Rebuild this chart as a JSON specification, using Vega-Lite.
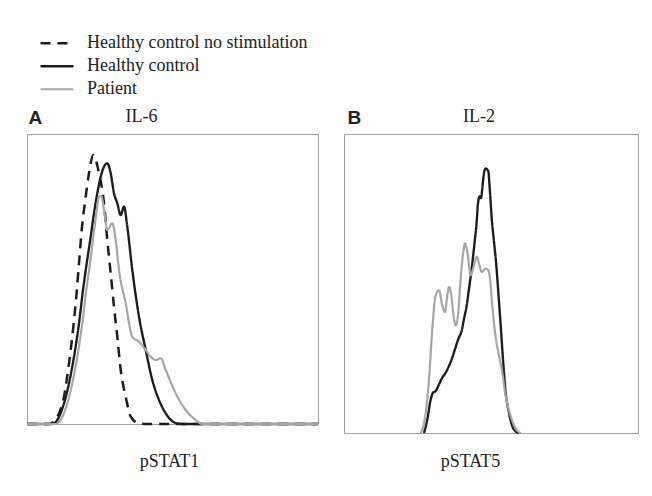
{
  "$schema": "https://vega.github.io/schema/vega-lite/v6.json",
  "padding": {"left": 21, "top": 32, "right": 5, "bottom": 5},
  "background": "white",
  "data": {"values": [
    {"p":"A","s":"Healthy control no stimulation","x":0,"y":0},
    {"p":"A","s":"Healthy control no stimulation","x":22,"y":0},
    {"p":"A","s":"Healthy control no stimulation","x":30.3,"y":7.3},
    {"p":"A","s":"Healthy control no stimulation","x":37,"y":27.3},
    {"p":"A","s":"Healthy control no stimulation","x":42,"y":60.7},
    {"p":"A","s":"Healthy control no stimulation","x":46,"y":94},
    {"p":"A","s":"Healthy control no stimulation","x":49.3,"y":127.3},
    {"p":"A","s":"Healthy control no stimulation","x":52,"y":160.7},
    {"p":"A","s":"Healthy control no stimulation","x":54.7,"y":194},
    {"p":"A","s":"Healthy control no stimulation","x":58.7,"y":227.3},
    {"p":"A","s":"Healthy control no stimulation","x":62,"y":250.7},
    {"p":"A","s":"Healthy control no stimulation","x":66.3,"y":269},
    {"p":"A","s":"Healthy control no stimulation","x":72,"y":250.7},
    {"p":"A","s":"Healthy control no stimulation","x":77,"y":220.7},
    {"p":"A","s":"Healthy control no stimulation","x":80.3,"y":184},
    {"p":"A","s":"Healthy control no stimulation","x":83.7,"y":150.7},
    {"p":"A","s":"Healthy control no stimulation","x":87,"y":117.3},
    {"p":"A","s":"Healthy control no stimulation","x":90.3,"y":87.3},
    {"p":"A","s":"Healthy control no stimulation","x":93.7,"y":54},
    {"p":"A","s":"Healthy control no stimulation","x":98.7,"y":27.3},
    {"p":"A","s":"Healthy control no stimulation","x":103.7,"y":7.3},
    {"p":"A","s":"Healthy control no stimulation","x":112,"y":0.5},
    {"p":"A","s":"Healthy control no stimulation","x":118.7,"y":0},
    {"p":"A","s":"Healthy control no stimulation","x":291,"y":0},
    {"p":"A","s":"Healthy control","x":0,"y":0},
    {"p":"A","s":"Healthy control","x":25.3,"y":0},
    {"p":"A","s":"Healthy control","x":37,"y":20.7},
    {"p":"A","s":"Healthy control","x":42,"y":40.7},
    {"p":"A","s":"Healthy control","x":47,"y":67.3},
    {"p":"A","s":"Healthy control","x":52,"y":100.7},
    {"p":"A","s":"Healthy control","x":56,"y":134},
    {"p":"A","s":"Healthy control","x":59.7,"y":160.7},
    {"p":"A","s":"Healthy control","x":63.7,"y":187.3},
    {"p":"A","s":"Healthy control","x":67,"y":210.7},
    {"p":"A","s":"Healthy control","x":70.3,"y":230.7},
    {"p":"A","s":"Healthy control","x":73.7,"y":247.3},
    {"p":"A","s":"Healthy control","x":77,"y":257.3},
    {"p":"A","s":"Healthy control","x":80.3,"y":260.7},
    {"p":"A","s":"Healthy control","x":83.7,"y":250.7},
    {"p":"A","s":"Healthy control","x":87,"y":230.7},
    {"p":"A","s":"Healthy control","x":90.3,"y":220.7},
    {"p":"A","s":"Healthy control","x":93.7,"y":209},
    {"p":"A","s":"Healthy control","x":97,"y":217.3},
    {"p":"A","s":"Healthy control","x":100.3,"y":197.3},
    {"p":"A","s":"Healthy control","x":105.3,"y":154},
    {"p":"A","s":"Healthy control","x":112,"y":107.3},
    {"p":"A","s":"Healthy control","x":118.7,"y":74},
    {"p":"A","s":"Healthy control","x":125.3,"y":44},
    {"p":"A","s":"Healthy control","x":132,"y":24},
    {"p":"A","s":"Healthy control","x":138.7,"y":10.7},
    {"p":"A","s":"Healthy control","x":148.7,"y":1},
    {"p":"A","s":"Healthy control","x":155.3,"y":0},
    {"p":"A","s":"Healthy control","x":291,"y":0},
    {"p":"A","s":"Patient","x":0,"y":0},
    {"p":"A","s":"Patient","x":28.7,"y":0},
    {"p":"A","s":"Patient","x":40.3,"y":20.7},
    {"p":"A","s":"Patient","x":45.3,"y":40.7},
    {"p":"A","s":"Patient","x":50.3,"y":67.3},
    {"p":"A","s":"Patient","x":55.3,"y":100.7},
    {"p":"A","s":"Patient","x":59.3,"y":134},
    {"p":"A","s":"Patient","x":63,"y":160.7},
    {"p":"A","s":"Patient","x":66.3,"y":187.3},
    {"p":"A","s":"Patient","x":69.3,"y":210.7},
    {"p":"A","s":"Patient","x":72,"y":227.3},
    {"p":"A","s":"Patient","x":74.3,"y":228},
    {"p":"A","s":"Patient","x":77,"y":214},
    {"p":"A","s":"Patient","x":80.3,"y":194},
    {"p":"A","s":"Patient","x":85.3,"y":200.7},
    {"p":"A","s":"Patient","x":88.7,"y":184},
    {"p":"A","s":"Patient","x":92,"y":154},
    {"p":"A","s":"Patient","x":98.7,"y":120.7},
    {"p":"A","s":"Patient","x":105.3,"y":87.3},
    {"p":"A","s":"Patient","x":112,"y":82.3},
    {"p":"A","s":"Patient","x":118.7,"y":74},
    {"p":"A","s":"Patient","x":123.7,"y":67.3},
    {"p":"A","s":"Patient","x":128.7,"y":64},
    {"p":"A","s":"Patient","x":133.7,"y":65.7},
    {"p":"A","s":"Patient","x":138.7,"y":54},
    {"p":"A","s":"Patient","x":148.7,"y":30.7},
    {"p":"A","s":"Patient","x":158.7,"y":14},
    {"p":"A","s":"Patient","x":168.7,"y":4},
    {"p":"A","s":"Patient","x":175.3,"y":0},
    {"p":"A","s":"Patient","x":291,"y":0},
    {"p":"B","s":"Healthy control","x":80,"y":0},
    {"p":"B","s":"Healthy control","x":83.3,"y":13.3},
    {"p":"B","s":"Healthy control","x":86.7,"y":33.3},
    {"p":"B","s":"Healthy control","x":89,"y":40},
    {"p":"B","s":"Healthy control","x":91.7,"y":41.7},
    {"p":"B","s":"Healthy control","x":95,"y":48.3},
    {"p":"B","s":"Healthy control","x":98.3,"y":55},
    {"p":"B","s":"Healthy control","x":101.7,"y":60},
    {"p":"B","s":"Healthy control","x":105,"y":66.7},
    {"p":"B","s":"Healthy control","x":108.3,"y":75},
    {"p":"B","s":"Healthy control","x":111,"y":83.3},
    {"p":"B","s":"Healthy control","x":114.3,"y":93.3},
    {"p":"B","s":"Healthy control","x":117.7,"y":101.7},
    {"p":"B","s":"Healthy control","x":120,"y":113.3},
    {"p":"B","s":"Healthy control","x":122.7,"y":126.7},
    {"p":"B","s":"Healthy control","x":125,"y":143.3},
    {"p":"B","s":"Healthy control","x":127.7,"y":163.3},
    {"p":"B","s":"Healthy control","x":130.3,"y":186.7},
    {"p":"B","s":"Healthy control","x":132.7,"y":210},
    {"p":"B","s":"Healthy control","x":134,"y":228.3},
    {"p":"B","s":"Healthy control","x":135.7,"y":235},
    {"p":"B","s":"Healthy control","x":137,"y":233.3},
    {"p":"B","s":"Healthy control","x":138.3,"y":243.3},
    {"p":"B","s":"Healthy control","x":140,"y":258.3},
    {"p":"B","s":"Healthy control","x":141.7,"y":262.7},
    {"p":"B","s":"Healthy control","x":144.3,"y":260},
    {"p":"B","s":"Healthy control","x":145.7,"y":243.3},
    {"p":"B","s":"Healthy control","x":147.7,"y":213.3},
    {"p":"B","s":"Healthy control","x":150,"y":190},
    {"p":"B","s":"Healthy control","x":152.3,"y":166.7},
    {"p":"B","s":"Healthy control","x":154.3,"y":140},
    {"p":"B","s":"Healthy control","x":156.7,"y":106.7},
    {"p":"B","s":"Healthy control","x":159,"y":73.3},
    {"p":"B","s":"Healthy control","x":161.7,"y":40},
    {"p":"B","s":"Healthy control","x":165,"y":20},
    {"p":"B","s":"Healthy control","x":168.3,"y":6.7},
    {"p":"B","s":"Healthy control","x":171.7,"y":1.7},
    {"p":"B","s":"Healthy control","x":175,"y":0},
    {"p":"B","s":"Patient","x":76.7,"y":0},
    {"p":"B","s":"Patient","x":81.7,"y":20},
    {"p":"B","s":"Patient","x":85,"y":53.3},
    {"p":"B","s":"Patient","x":88.3,"y":103.3},
    {"p":"B","s":"Patient","x":91.7,"y":136.7},
    {"p":"B","s":"Patient","x":95,"y":141.7},
    {"p":"B","s":"Patient","x":98.3,"y":126.7},
    {"p":"B","s":"Patient","x":101,"y":120},
    {"p":"B","s":"Patient","x":103.3,"y":136.7},
    {"p":"B","s":"Patient","x":105,"y":145},
    {"p":"B","s":"Patient","x":107.3,"y":136.7},
    {"p":"B","s":"Patient","x":110,"y":113.3},
    {"p":"B","s":"Patient","x":111.7,"y":106.7},
    {"p":"B","s":"Patient","x":114.3,"y":120},
    {"p":"B","s":"Patient","x":116.7,"y":153.3},
    {"p":"B","s":"Patient","x":119.3,"y":180},
    {"p":"B","s":"Patient","x":121,"y":188.3},
    {"p":"B","s":"Patient","x":123.3,"y":180},
    {"p":"B","s":"Patient","x":126.7,"y":156.7},
    {"p":"B","s":"Patient","x":130,"y":166.7},
    {"p":"B","s":"Patient","x":132.7,"y":175},
    {"p":"B","s":"Patient","x":135,"y":168.3},
    {"p":"B","s":"Patient","x":137.7,"y":160},
    {"p":"B","s":"Patient","x":141.7,"y":163.3},
    {"p":"B","s":"Patient","x":144.3,"y":161.7},
    {"p":"B","s":"Patient","x":146,"y":153.3},
    {"p":"B","s":"Patient","x":148.3,"y":126.7},
    {"p":"B","s":"Patient","x":151,"y":100},
    {"p":"B","s":"Patient","x":155,"y":76.7},
    {"p":"B","s":"Patient","x":158.3,"y":60},
    {"p":"B","s":"Patient","x":161.7,"y":36.7},
    {"p":"B","s":"Patient","x":166.7,"y":16.7},
    {"p":"B","s":"Patient","x":171.7,"y":4.3},
    {"p":"B","s":"Patient","x":176.7,"y":0}
  ]},
  "spacing": 19,
  "hconcat": [
    {
      "width": 291,
      "height": 290,
      "title": {"text": "IL-6", "frame": "group", "dx": -31, "offset": -32, "baseline": "alphabetic"},
      "transform": [{"filter": "datum.p === 'A'"}],
      "mark": {"type": "line", "interpolate": "monotone"},
      "encoding": {
        "x": {"field": "x", "type": "quantitative", "scale": {"domain": [0, 291], "nice": false, "zero": false},
              "axis": {"title": "pSTAT1", "labels": false, "ticks": false, "domain": false, "grid": false, "titleX": 142, "titleY": 42, "titleBaseline": "alphabetic", "titleAlign": "center"}},
        "y": {"field": "y", "type": "quantitative", "scale": {"domain": [0, 290], "nice": false},
              "axis": {"title": "A", "labels": false, "ticks": false, "domain": false, "grid": false, "titleAngle": 0, "titleX": 1, "titleY": -11, "titleAlign": "left", "titleBaseline": "alphabetic", "titleFont": "Liberation Sans", "titleFontWeight": "bold", "titleFontSize": 19}},
        "color": {"field": "s", "type": "nominal",
                  "scale": {"domain": ["Healthy control no stimulation", "Healthy control", "Patient"], "range": ["#1c1c1c", "#1c1c1c", "#a6a6a6"]},
                  "legend": {"orient": "none", "legendX": 12, "legendY": -102, "title": null, "symbolType": "stroke", "symbolSize": 1089, "clipHeight": 22.5, "labelFont": "Liberation Serif", "labelFontSize": 18, "labelColor": "#222", "labelOffset": 12, "labelLimit": 400, "rowPadding": 0, "padding": 0}},
        "strokeDash": {"field": "s", "type": "nominal",
                  "scale": {"domain": ["Healthy control no stimulation", "Healthy control", "Patient"], "range": [[10, 7], [1, 0], [1, 0]]}},
        "strokeWidth": {"field": "s", "type": "nominal",
                  "scale": {"domain": ["Healthy control no stimulation", "Healthy control", "Patient"], "range": [2.5, 2.2, 1.8]}}
      }
    },
    {
      "width": 294,
      "height": 299,
      "title": {"text": "IL-2", "frame": "group", "dx": -12, "offset": -32, "baseline": "alphabetic"},
      "transform": [{"filter": "datum.p === 'B'"}],
      "mark": {"type": "line", "interpolate": "monotone"},
      "encoding": {
        "x": {"field": "x", "type": "quantitative", "scale": {"domain": [0, 294], "nice": false, "zero": false},
              "axis": {"title": "pSTAT5", "labels": false, "ticks": false, "domain": false, "grid": false, "titleX": 126, "titleY": 33, "titleBaseline": "alphabetic", "titleAlign": "center"}},
        "y": {"field": "y", "type": "quantitative", "scale": {"domain": [0, 297], "nice": false},
              "axis": {"title": "B", "labels": false, "ticks": false, "domain": false, "grid": false, "titleAngle": 0, "titleX": 3, "titleY": -11, "titleAlign": "left", "titleBaseline": "alphabetic", "titleFont": "Liberation Sans", "titleFontWeight": "bold", "titleFontSize": 19}},
        "color": {"field": "s", "type": "nominal",
                  "scale": {"domain": ["Healthy control no stimulation", "Healthy control", "Patient"], "range": ["#1c1c1c", "#1c1c1c", "#a6a6a6"]}},
        "strokeDash": {"field": "s", "type": "nominal",
                  "scale": {"domain": ["Healthy control no stimulation", "Healthy control", "Patient"], "range": [[10, 7], [1, 0], [1, 0]]}},
        "strokeWidth": {"field": "s", "type": "nominal",
                  "scale": {"domain": ["Healthy control no stimulation", "Healthy control", "Patient"], "range": [2.5, 2.2, 1.8]}}
      }
    }
  ],
  "config": {
    "view": {"stroke": "#a0a0a0", "strokeWidth": 1},
    "title": {"font": "Liberation Serif", "fontSize": 18, "fontWeight": "normal", "color": "#222"},
    "axis": {"titleFont": "Liberation Serif", "titleFontSize": 18, "titleFontWeight": "normal", "titleColor": "#222"}
  }
}
